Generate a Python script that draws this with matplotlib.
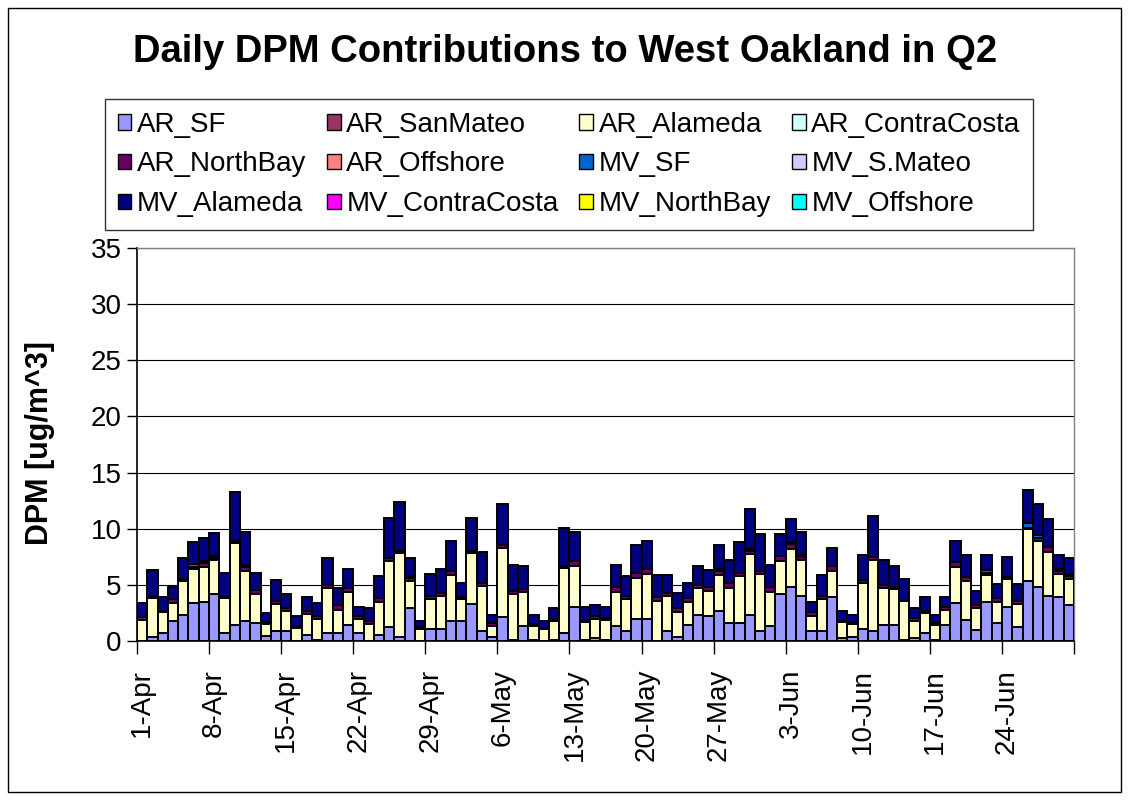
import numpy as np
import pandas as pd
import matplotlib
matplotlib.use('Agg')
import matplotlib.pyplot as plt
from matplotlib.patches import Rectangle, Patch

plt.rcParams['font.family'] = ['Liberation Sans', 'DejaVu Sans']

# dias del trimestre (1-Apr .. 30-Jun)
days = pd.date_range('2005-04-01', '2005-06-30')
day_labels = [f"{d.day}-{d.strftime('%b')}" for d in days]

# valores [ug/m^3]
ar_sf = [0, 0.4, 0.7, 1.75, 2.3, 3.35, 3.5, 4.2, 0.7, 1.4, 1.75, 1.6, 0.45, 0.9, 0.9, 0, 0.55, 0.1, 0.7, 0.7,
         1.45, 0.7, 0, 0.55, 1.25, 0.4, 2.9, 0, 1.05, 1.05, 1.8, 1.8, 3.3, 0.85, 0.4, 2.15, 0.1, 1.35, 0.1, 0,
         0.05, 0.7, 3.0, 0.05, 0.3, 0.1, 1.3, 0.85, 1.95, 2.0, 0, 0.85, 0.4, 1.4, 2.35, 2.2, 2.65, 1.6, 1.6, 2.35,
         0.9, 1.35, 4.2, 4.8, 4.05, 0.9, 0.85, 3.9, 0.3, 0.4, 1.05, 0.85, 1.4, 1.4, 0.05, 0.3, 0.7, 0.1, 1.45, 3.35,
         1.9, 1.0, 3.5, 1.6, 3.05, 1.25, 5.35, 4.8, 4.05, 3.9, 3.2]
ar_alameda = [1.9, 3.4, 1.85, 1.65, 3.0, 3.05, 3.05, 3.0, 3.15, 7.3, 4.45, 2.6, 1.05, 2.4, 1.75, 1.2, 1.85, 1.85, 4.0, 2.1,
              2.95, 1.3, 1.55, 2.95, 5.85, 7.4, 2.45, 1.08, 2.7, 3.0, 4.05, 1.9, 4.5, 4.05, 0.95, 6.15, 4.1, 3.0, 1.2, 1.05,
              1.7, 5.8, 3.7, 1.65, 1.65, 1.8, 3.1, 2.85, 3.7, 4.0, 3.55, 3.15, 2.2, 2.1, 2.4, 2.25, 3.2, 3.15, 4.2, 5.4,
              5.1, 3.05, 2.9, 3.4, 3.2, 1.35, 2.85, 2.3, 1.35, 1.15, 4.1, 6.4, 3.35, 3.2, 3.5, 1.45, 1.75, 1.3, 1.35, 3.2,
              3.45, 1.95, 2.35, 1.9, 2.45, 2.05, 4.6, 4.1, 3.9, 2.1, 2.3]
ar_northbay = [0.25, 0.2, 0.1, 0.3, 0.25, 0.15, 0.4, 0.2, 0.2, 0.25, 0.35, 0.3, 0.2, 0.3, 0.25, 0.1, 0.3, 0.3, 0.25, 0.45,
               0.3, 0.2, 0.25, 0.3, 0.25, 0.25, 0.25, 0.2, 0.3, 0.25, 0.4, 0.2, 0.25, 0.25, 0.25, 0.25, 0.25, 0.25, 0.2, 0.1,
               0.2, 0.2, 0.45, 0.2, 0.3, 0.15, 0.45, 0.3, 0.45, 0.45, 0.4, 0.25, 0.35, 0.35, 0.25, 0.4, 0.4, 0.45, 0.3, 0.25,
               0.25, 0.45, 0.5, 0.4, 0.22, 0.3, 0.3, 0.45, 0.1, 0.15, 0.25, 0.25, 0.2, 0.25, 0.05, 0.3, 0.2, 0.2, 0.2, 0.45,
               0.35, 0.25, 0.25, 0.3, 0.2, 0.25, 0.15, 0.3, 0.45, 0.2, 0.25]
mv_sf = [0, 0, 0, 0, 0, 0.3, 0.2, 0.2, 0, 0, 0.2, 0, 0, 0, 0, 0, 0, 0, 0, 0,
         0, 0, 0, 0, 0, 0, 0.15, 0, 0, 0, 0, 0, 0, 0, 0, 0, 0, 0, 0, 0,
         0, 0, 0, 0, 0, 0, 0, 0, 0, 0, 0, 0, 0, 0, 0, 0, 0.2, 0, 0, 0.2,
         0, 0, 0, 0.25, 0.2, 0, 0, 0, 0, 0, 0, 0, 0, 0, 0, 0, 0, 0, 0, 0,
         0, 0, 0.2, 0, 0, 0, 0.45, 0.2, 0, 0.2, 0.2]
mv_alameda = [1.2, 2.3, 1.3, 1.1, 1.8, 2.0, 2.0, 2.05, 2.05, 4.35, 2.95, 1.6, 0.75, 1.8, 1.25, 0.9, 1.2, 1.15, 2.4, 1.45,
              1.75, 0.85, 1.15, 1.95, 3.6, 4.3, 1.65, 0.52, 1.9, 2.15, 2.7, 1.3, 2.9, 2.75, 0.75, 3.65, 2.35, 2.05, 0.85, 0.65,
              1.0, 3.35, 2.55, 1.1, 1.0, 1.0, 1.95, 1.75, 2.45, 2.5, 1.9, 1.6, 1.3, 1.35, 1.65, 1.45, 2.1, 2.0, 2.7, 3.6,
              3.25, 1.95, 1.9, 2.05, 2.05, 0.95, 1.9, 1.6, 0.95, 0.65, 2.3, 3.6, 2.25, 1.8, 1.95, 0.85, 1.3, 0.75, 0.95, 1.95,
              1.95, 1.25, 1.4, 1.3, 1.8, 1.5, 2.9, 2.8, 2.5, 1.3, 1.4]
# series que no se aprecian en el grafico
zeros = [0.0] * len(days)

series = ['AR_SF', 'AR_SanMateo', 'AR_Alameda', 'AR_ContraCosta', 'AR_NorthBay', 'AR_Offshore',
          'MV_SF', 'MV_S.Mateo', 'MV_Alameda', 'MV_ContraCosta', 'MV_NorthBay', 'MV_Offshore']
values = [ar_sf, zeros, ar_alameda, zeros, ar_northbay, zeros,
          mv_sf, zeros, mv_alameda, zeros, zeros, zeros]
colors = ['#9999FF', '#993366', '#FFFFCC', '#CCFFFF', '#660066', '#FF8080',
          '#0066CC', '#CCCCFF', '#000080', '#FF00FF', '#FFFF00', '#00FFFF']

W, H = 1129, 800
fig = plt.figure(figsize=(W / 100, H / 100), dpi=100)
ax = fig.add_axes([137 / W, 1 - 641 / H, (1074 - 137) / W, (641 - 248) / H])

x = np.arange(len(days))
bottom = np.zeros(len(days))
for name, vals, col in zip(series, values, colors):
    v = np.array(vals, dtype=float)
    mask = v > 0
    ax.bar(x[mask], v[mask], width=1.0, bottom=bottom[mask], color=col,
           edgecolor='black', linewidth=1.4, zorder=3)
    bottom += v

# ejes
ax.set_xlim(-0.5, len(days) - 0.5)
ax.set_ylim(0, 35)
ax.set_yticks(np.arange(0, 36, 5))
ax.yaxis.grid(True, color='black', linewidth=0.8, zorder=0)
ax.set_axisbelow(True)
ax.tick_params(axis='y', labelsize=20, length=7, width=1, direction='out', pad=4)

lab_pos = x[::7]
ax.set_xticks(lab_pos)
ax.set_xticklabels([day_labels[i] for i in lab_pos], rotation=90, fontsize=20)
ax.set_xticks(np.arange(-0.5, len(days), 7), minor=True)
ax.tick_params(axis='x', which='major', length=0, pad=20)
ax.tick_params(axis='x', which='minor', length=9, width=1, direction='out')

for s in ['left', 'bottom']:
    ax.spines[s].set_color('black')
    ax.spines[s].set_linewidth(1.2)
for s in ['top', 'right']:
    ax.spines[s].set_color('#808080')
    ax.spines[s].set_linewidth(1.0)

# titulo y etiqueta
fig.text(565 / W, 1 - 52 / H, 'Daily DPM Contributions to West Oakland in Q2',
         ha='center', va='center', fontsize=27.5, fontweight='bold')
fig.text(40 / W, 1 - 443 / H, 'DPM [ug/m^3]', rotation=90, ha='center', va='center',
         fontsize=22, fontweight='bold')

# leyenda (orden por filas como en Excel)
handles = [Patch(facecolor=c, edgecolor='black', linewidth=1.0, label=n) for n, c in zip(series, colors)]
order = [0, 4, 8, 1, 5, 9, 2, 6, 10, 3, 7, 11]
leg = fig.legend([handles[i] for i in order], [series[i] for i in order],
                 loc='upper left', bbox_to_anchor=(105 / W, 1 - 230 / H, (1033 - 105) / W, (230 - 99) / H),
                 mode='expand', ncol=4, fontsize=20, frameon=True, fancybox=False,
                 edgecolor='black', handlelength=0.5, handleheight=0.5, handletextpad=0.2,
                 labelspacing=0.5, borderpad=0.45, borderaxespad=0.0)
leg.get_frame().set_linewidth(1.0)

# marco exterior
fig.patches.append(Rectangle((8 / W, 8 / H), (W - 16) / W, (H - 16) / H, fill=False,
                             edgecolor='black', linewidth=1.0, transform=fig.transFigure))

fig.savefig('out.png', dpi=100)
